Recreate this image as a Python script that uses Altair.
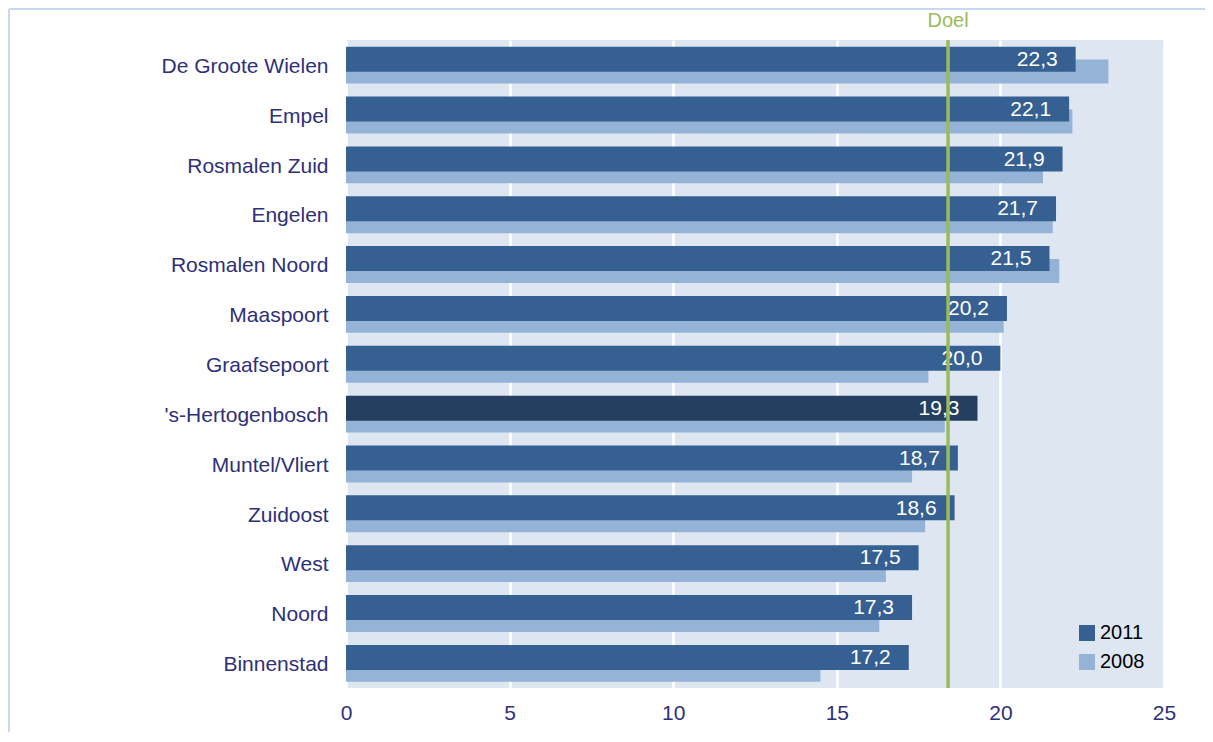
import altair as alt
import pandas as pd

categories = ["De Groote Wielen", "Empel", "Rosmalen Zuid", "Engelen", "Rosmalen Noord",
              "Maaspoort", "Graafsepoort", "'s-Hertogenbosch", "Muntel/Vliert", "Zuidoost",
              "West", "Noord", "Binnenstad"]
values_2011 = [22.3, 22.1, 21.9, 21.7, 21.5, 20.2, 20.0, 19.3, 18.7, 18.6, 17.5, 17.3, 17.2]
values_2008 = [23.3, 22.2, 21.3, 21.6, 21.8, 20.1, 17.8, 18.3, 17.3, 17.7, 16.5, 16.3, 14.5]
labels_2011 = ["22,3", "22,1", "21,9", "21,7", "21,5", "20,2", "20,0", "19,3", "18,7", "18,6",
               "17,5", "17,3", "17,2"]
doel = 18.4
x_ticks = [0, 5, 10, 15, 20, 25]
series = ["2011", "2008"]

C2011 = "#366092"
C2008 = "#95B3D7"
CCITY = "#243F60"
NAVY = "#2E307A"
FONT = "Liberation Sans"

rows = []
for c, v, lab in zip(categories, values_2011, labels_2011):
    rows.append({"cat": c, "serie": "2011", "value": v, "label": lab})
for c, v in zip(categories, values_2008):
    rows.append({"cat": c, "serie": "2008", "value": v, "label": ""})
df = pd.DataFrame(rows)

W, H = 818, 648

y_enc = alt.Y("cat:N", sort=categories,
              scale=alt.Scale(paddingInner=0, paddingOuter=0),
              axis=alt.Axis(title=None, ticks=False, domain=False, labelFontSize=21,
                            labelColor=NAVY, labelFont=FONT, labelPadding=18,
                            labelLimit=400, labelOffset=2))
x_enc = alt.X("value:Q", scale=alt.Scale(domain=[0, 25], nice=False),
              axis=alt.Axis(title=None, values=x_ticks, ticks=False, domain=False,
                            labelFontSize=21, labelColor=NAVY, labelFont=FONT,
                            labelPadding=14, labelFlush=False, grid=True,
                            gridColor="white", gridWidth=2.5, format="d"))
color_scale = alt.Scale(domain=series, range=[C2011, C2008])
legend = alt.Legend(title=None, orient="none", legendX=731, legendY=583,
                    symbolType="square", symbolSize=256, symbolStrokeWidth=0,
                    labelFontSize=20, labelColor="black", labelFont=FONT,
                    labelOffset=3, rowPadding=9, padding=0)

base = alt.Chart(df)

bars08 = base.transform_filter(alt.datum.serie == "2008").mark_bar(
    height=24, yOffset=6.7).encode(
    x=x_enc, y=y_enc,
    color=alt.Color("serie:N", scale=color_scale, legend=legend))

bars11 = base.transform_filter(alt.datum.serie == "2011").mark_bar(
    height=25, yOffset=-5.7).encode(
    x=x_enc, y=y_enc,
    color=alt.condition(alt.datum.cat == "'s-Hertogenbosch", alt.value(CCITY),
                        alt.Color("serie:N", scale=color_scale, legend=legend)))

texts = base.transform_filter(alt.datum.serie == "2011").mark_text(
    align="right", baseline="middle", dx=-18, yOffset=-5.0, color="white",
    fontSize=21, font=FONT).encode(x=x_enc, y=y_enc, text="label:N")

doel_df = pd.DataFrame({"value": [doel], "t": ["Doel"]})
rule = alt.Chart(doel_df).mark_rule(color="#9BBB59", strokeWidth=3.5).encode(
    x=alt.X("value:Q"), y=alt.value(0), y2=alt.value(H))
doel_text = alt.Chart(doel_df).mark_text(
    color="#9BBB59", fontSize=20, font=FONT, baseline="middle", align="center").encode(
    x=alt.X("value:Q"), y=alt.value(-19), text="t:N")

frame_df = pd.DataFrame({"a": [1]})
frame_top = alt.Chart(frame_df).mark_rule(color="#C6D9F1", strokeWidth=2).encode(
    x=alt.value(-337), x2=alt.value(870), y=alt.value(-31))
frame_left = alt.Chart(frame_df).mark_rule(color="#C6D9F1", strokeWidth=2).encode(
    x=alt.value(-337), y=alt.value(-31), y2=alt.value(700))

chart = alt.layer(frame_top, frame_left, bars08, bars11, texts, rule, doel_text).properties(
    width=W, height=H,
    autosize=alt.AutoSizeParams(type="none"),
    padding={"left": 338, "top": 32, "right": 41, "bottom": 44},
    background="white",
).configure_view(fill="#DEE6F2", stroke=None)

chart.save("out.html", embed_options={"renderer": "svg", "actions": False})
